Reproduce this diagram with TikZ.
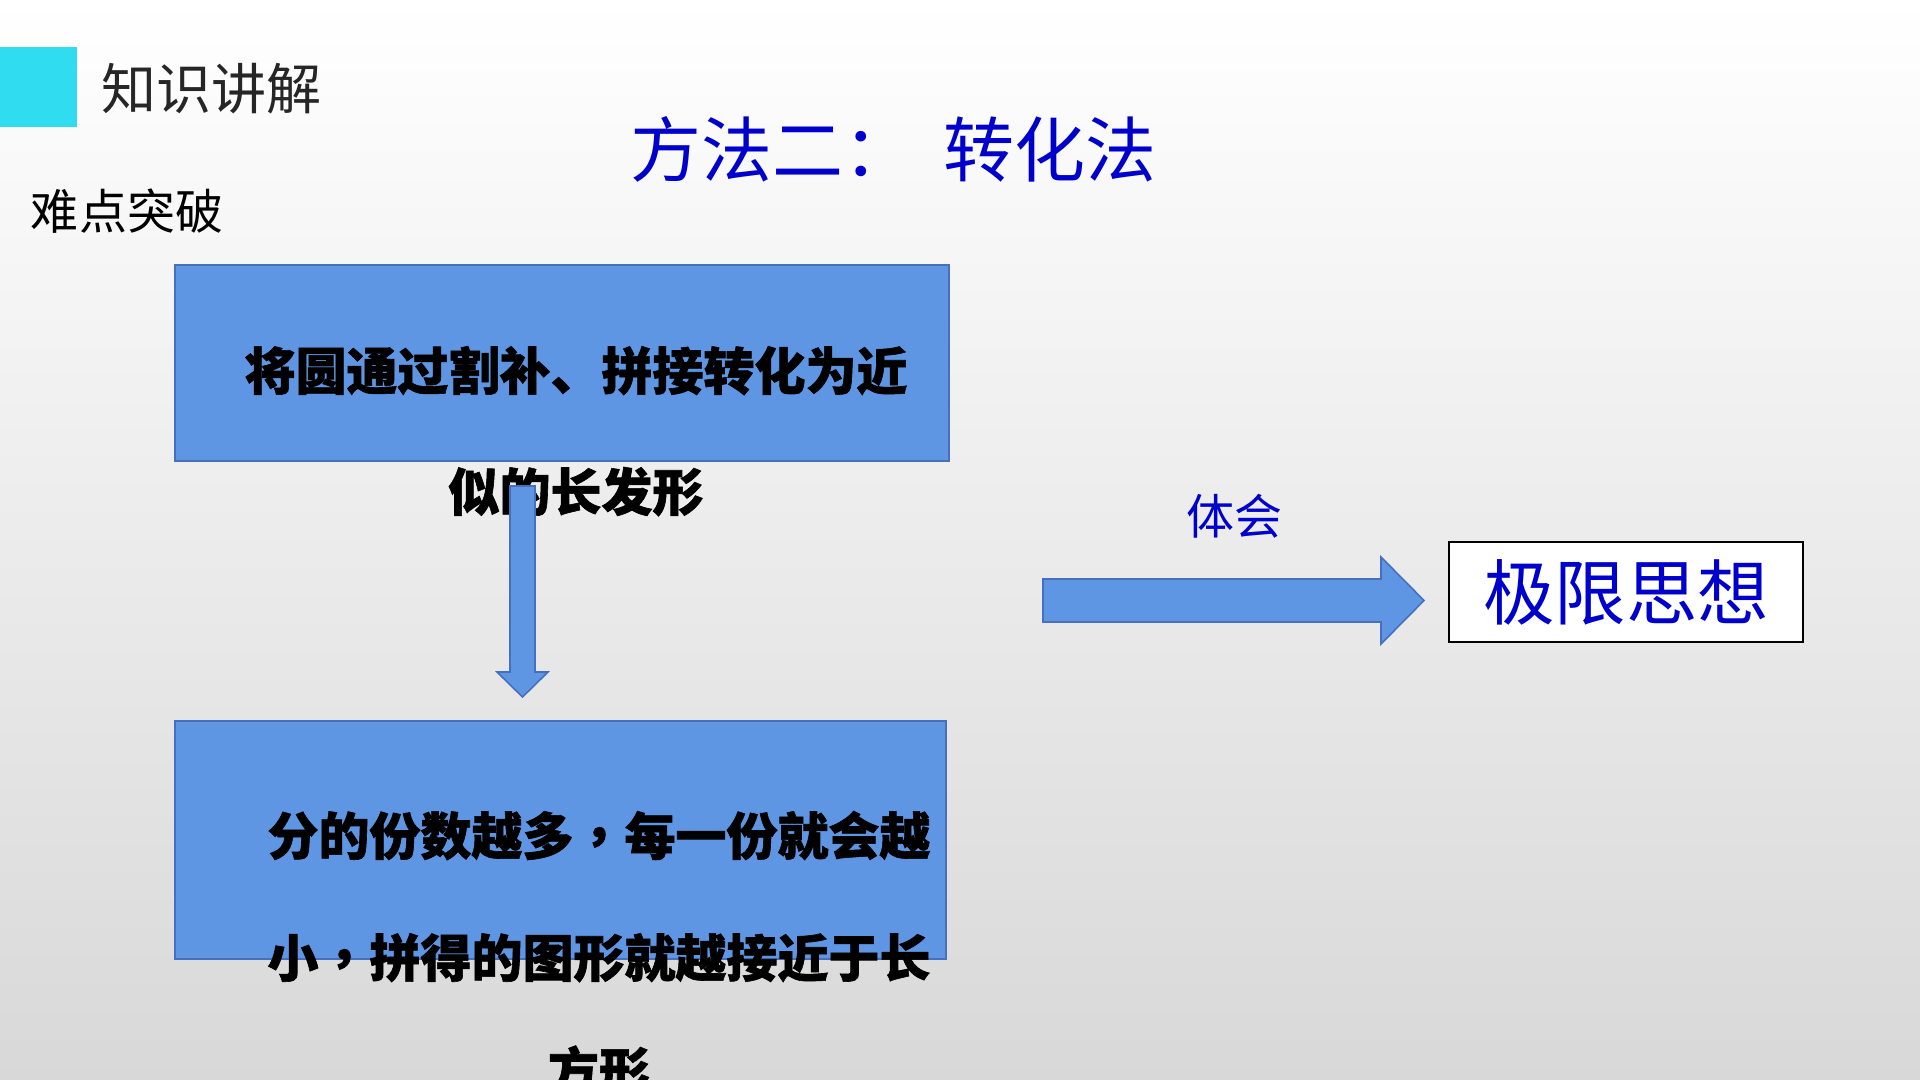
\documentclass[tikz,border=0pt]{standalone}
\usepackage{fontspec}
\usetikzlibrary{calc}
\setmainfont{Noto Sans CJK SC}
\newfontfamily\cjk{Noto Sans CJK SC}
\newfontfamily\heavy{Noto Sans CJK SC}[BoldFeatures={FakeBold=1.2}]
\newfontfamily\heavytc{Noto Sans CJK TC}[BoldFeatures={FakeBold=1.2}]
\newcommand{\cm}{{\heavytc ，}}
\definecolor{bggray}{RGB}{216,216,216}
\definecolor{cyanbox}{RGB}{48,221,240}
\definecolor{boxblue}{RGB}{94,150,228}
\definecolor{boxline}{RGB}{70,112,190}
\definecolor{titleblue}{RGB}{0,0,204}
\definecolor{darktext}{RGB}{38,38,38}
\tikzset{
  bluebox/.style={draw=boxline, line width=1pt, fill=boxblue, inner sep=0pt},
  blockarrow/.style={draw=boxline, line width=0.8pt, fill=boxblue, line join=miter},
  bodytext/.style={font=\heavy\bfseries\fontsize{25.5pt}{30pt}\selectfont, text=black, inner sep=0pt, anchor=base},
}
\begin{document}
\begin{tikzpicture}[x=0.5pt,y=-0.5pt, every node/.style={inner sep=0pt,outer sep=0pt}]
\useasboundingbox (0,0) rectangle (1920,1080);
\clip (0,0) rectangle (1920,1080);
\shade[top color=white, bottom color=bggray] (0,0) rectangle (1920,1080);

% header
\node (cyan) [fill=cyanbox, minimum width=38.5pt, minimum height=40pt] at (38.5,87) {};
\node (hdr) [anchor=base west, font=\cjk\fontsize{27.5pt}{33pt}\selectfont, text=darktext] at (101,110) {知识讲解};
\node (sub) [anchor=base west, font=\cjk\fontsize{24pt}{29pt}\selectfont, text=black] at (31,230) {难点突破};
\node (title) [anchor=base west, font=\cjk\fontsize{35.5pt}{42pt}\selectfont, text=titleblue] at (630,177) {方法二：\hspace{15pt}转化法};

% boxes
\node (box1) [bluebox, minimum width=387pt, minimum height=98pt] at (562,363) {};
\node (box2) [bluebox, minimum width=385.5pt, minimum height=119pt] at (560.5,840) {};

% box texts
\node (t1a) [bodytext] at (576,390) {将圆通过割补、拼接转化为近};
\node (t1b) [bodytext] at (576,511) {似的长发形};
\node (t2a) [bodytext] at (599,855) {分的份数越多\cm 每一份就会越};
\node (t2b) [bodytext] at (599,977) {小\cm 拼得的图形就越接近于长};
\node (t2c) [bodytext] at (599,1090) {方形};

% down arrow
\coordinate (dtop) at (522.5,486);
\coordinate (dtip) at (522.5,697);
\draw[blockarrow] ($(dtop)+(-12.5,0)$) -- ($(dtop)+(12.5,0)$) -- (535,672) -- (548,672) -- (dtip) -- (497,672) -- (510,672) -- cycle;

% right arrow
\coordinate (rtail) at (1043,600.5);
\coordinate (rtip) at (1424,600.5);
\draw[blockarrow] (1043,579) -- (1381,579) -- (1381,557) -- (rtip) -- (1381,644) -- (1381,622) -- (1043,622) -- cycle;
\node (lbl) [anchor=base west, font=\cjk\fontsize{24pt}{29pt}\selectfont, text=titleblue] at (1186,534) {体会};

% result box
\node (kbox) [draw=black, line width=1.2pt, fill=white, minimum width=177pt, minimum height=50pt, font=\cjk\fontsize{35.7pt}{42pt}\selectfont, text=titleblue] at (1626,592) {极限思想};
\end{tikzpicture}
\end{document}
